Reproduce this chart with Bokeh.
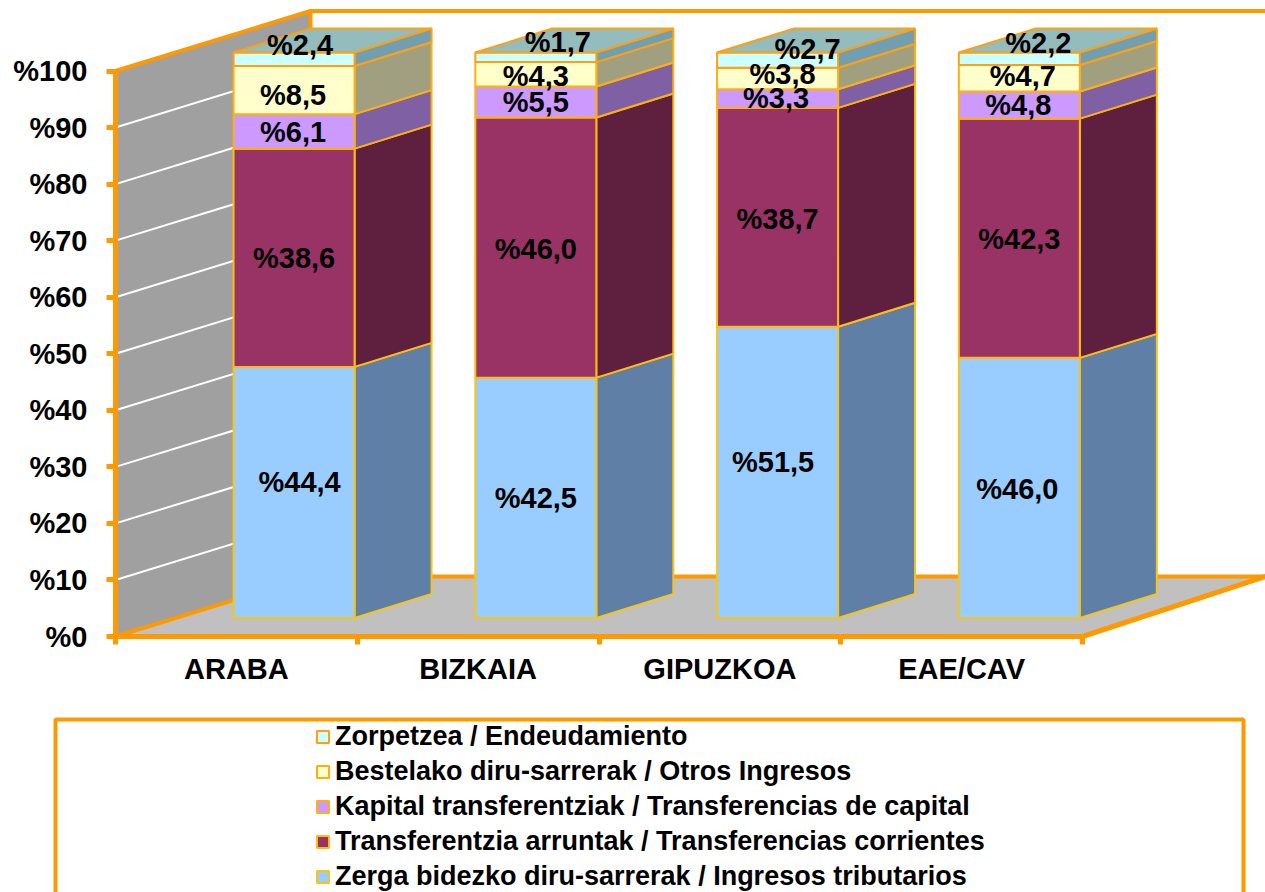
from bokeh.plotting import figure
from bokeh.models import ColumnDataSource, FixedTicker, Legend, LegendItem, BoxAnnotation
from bokeh.embed import file_html
from bokeh.resources import INLINE
from bokeh.core.properties import value

# ---- data ----
categories = ["ARABA", "BIZKAIA", "GIPUZKOA", "EAE/CAV"]
series_names = [
    "Zerga bidezko diru-sarrerak / Ingresos tributarios",
    "Transferentzia arruntak / Transferencias corrientes",
    "Kapital transferentziak / Transferencias de capital",
    "Bestelako diru-sarrerak / Otros Ingresos",
    "Zorpetzea / Endeudamiento",
]
zerga = [44.4, 42.5, 51.5, 46.0]
transf_arrunt = [38.6, 46.0, 38.7, 42.3]
kapital = [6.1, 5.5, 3.3, 4.8]
bestelako = [8.5, 4.3, 3.8, 4.7]
zorpetzea = [2.4, 1.7, 2.7, 2.2]
y_ticks = [0, 10, 20, 30, 40, 50, 60, 70, 80, 90, 100]

# ---- styles / layout ----
series = [zerga, transf_arrunt, kapital, bestelako, zorpetzea]
front = ["#99ccff", "#993366", "#cc99ff", "#ffffcc", "#ccffff"]
side = ["#5f7fa6", "#5f1f3f", "#8060a5", "#a0a080", "#6f9fb0"]
edge = ["#f5c518", "#ffbb10", "#ffb010", "#ffb010", "#ffa010"]
top_colour = "#95bcbc"
ORANGE = "#ff9900"
FONT = "Liberation Sans"

W, H = 1265, 892
X0, Y0 = 115, 636               # pixel position of the axes' origin
XS, YS = 241.75, 5.655          # pixels per data unit
XMAX, YMAX = (W - X0) / XS, Y0 / YS
WALL_DX, WALL_DY = 195 / XS, 60 / YS
BAR_OFF_X, BAR_OFF_Y = 57.7 / XS, 18.5 / YS   # shift of the bars' front faces
SIDE_DX, SIDE_DY = 77 / XS, 24 / YS
HALF = 60.5 / XS

# label shifts from the middle of each segment, in pixels (image down positive)
label_dx = [[5.5, 0, -4.5, -2], [0, 0, 0, 0], [-1, 0, -1.5, -1], [-1, 0, 5, 3.5], [6, 22, 30, 19]]
label_dy = [[-10.5, 0, -10.4, 1], [0.5, 1.4, 1.6, 0.7], [0.5, 0, -0.7, 0], [4.7, 1.7, -4.6, -2.3], [-14.4, -15, -11.2, -15.8]]

p = figure(width=W, height=H, output_backend="svg", toolbar_location=None,
           x_range=(-X0 / XS, XMAX), y_range=(-(H - Y0) / YS, YMAX),
           min_border_left=0, min_border_right=0, min_border_top=0, min_border_bottom=0,
           outline_line_color=None, background_fill_color="white")
p.grid.visible = False

# walls
p.patch([0, WALL_DX, WALL_DX, 0], [0, WALL_DY, 100 + WALL_DY, 100], fill_color="#a0a0a0", line_color=None)
p.patch([0, WALL_DX, XMAX, 4], [0, WALL_DY, WALL_DY, 0], fill_color="#c0c0c0", line_color=None)
grid_vals = [t for t in y_ticks if 0 < t < 100]
p.segment([0] * len(grid_vals), grid_vals, [WALL_DX] * len(grid_vals), [t + WALL_DY for t in grid_vals],
          line_color="white", line_width=2)
# orange frame of the walls
p.line([0, WALL_DX, XMAX], [100, 100 + WALL_DY, 100 + WALL_DY], line_color=ORANGE, line_width=4)
p.line([WALL_DX, WALL_DX], [WALL_DY, 100 + WALL_DY], line_color=ORANGE, line_width=4)
p.line([0, WALL_DX, XMAX], [0, WALL_DY, WALL_DY], line_color=ORANGE, line_width=4)
p.line([4, XMAX], [0, WALL_DY], line_color=ORANGE, line_width=5)

# stacked 3-D bars
legend_renderers = []
for s, vals in enumerate(series):
    l, r, b, t = [], [], [], []
    sx, sy = [], []
    for i, v in enumerate(vals):
        base = sum(series[k][i] for k in range(s))
        cx = i + 0.5 + BAR_OFF_X
        l.append(cx - HALF); r.append(cx + HALF)
        b.append(base + BAR_OFF_Y); t.append(base + v + BAR_OFF_Y)
        sx.append([cx + HALF, cx + HALF + SIDE_DX, cx + HALF + SIDE_DX, cx + HALF])
        sy.append([base + BAR_OFF_Y, base + BAR_OFF_Y + SIDE_DY, base + v + BAR_OFF_Y + SIDE_DY, base + v + BAR_OFF_Y])
    p.patches(sx, sy, fill_color=side[s], line_color=edge[s], line_width=2)
    legend_renderers.append(
        p.quad(left=l, right=r, bottom=b, top=t, fill_color=front[s], line_color=edge[s], line_width=2))

# top faces
tx, ty = [], []
for i in range(len(categories)):
    cx = i + 0.5 + BAR_OFF_X
    total = sum(series[k][i] for k in range(len(series))) + BAR_OFF_Y
    tx.append([cx - HALF, cx - HALF + SIDE_DX, cx + HALF + SIDE_DX, cx + HALF])
    ty.append([total, total + SIDE_DY, total + SIDE_DY, total])
p.patches(tx, ty, fill_color=top_colour, line_color="#ffa010", line_width=2)

# value labels
lx, ly, lt, ldx, ldy = [], [], [], [], []
for s, vals in enumerate(series):
    for i, v in enumerate(vals):
        base = sum(series[k][i] for k in range(s))
        lx.append(i + 0.5 + BAR_OFF_X)
        ly.append(base + v / 2 + BAR_OFF_Y)
        lt.append("%" + f"{v:.1f}".replace(".", ","))
        ldx.append(label_dx[s][i]); ldy.append(label_dy[s][i])
p.text(x="x", y="y", text="t", x_offset="dx", y_offset="dy",
       source=ColumnDataSource(dict(x=lx, y=ly, t=lt, dx=ldx, dy=ldy)),
       text_font=value(FONT), text_font_style="bold", text_font_size="29px",
       text_color="black", text_align="center", text_baseline="middle")

# axes
ya = p.yaxis[0]
ya.fixed_location = 0
ya.ticker = FixedTicker(ticks=y_ticks)
ya.major_label_overrides = {t: f"%{t}" for t in y_ticks}
ya.bounds = (0, 100)
ya.axis_line_color = ORANGE; ya.axis_line_width = 5
ya.major_tick_line_color = ORANGE; ya.major_tick_line_width = 5
ya.major_tick_in = 0; ya.major_tick_out = 9
ya.minor_tick_line_color = None
ya.major_label_text_font = FONT; ya.major_label_text_font_style = "bold"
ya.major_label_text_font_size = "29px"; ya.major_label_text_color = "black"
ya.major_label_standoff = 19

xa = p.xaxis[0]
xa.fixed_location = 0
centers = [i + 0.5 for i in range(len(categories))]
xa.ticker = FixedTicker(ticks=centers, minor_ticks=list(range(len(categories) + 1)))
xa.major_label_overrides = {c: n for c, n in zip(centers, categories)}
xa.bounds = (0, len(categories))
xa.axis_line_color = ORANGE; xa.axis_line_width = 5
xa.major_tick_line_color = None; xa.major_tick_in = 0; xa.major_tick_out = 0
xa.minor_tick_line_color = ORANGE; xa.minor_tick_line_width = 5
xa.minor_tick_in = 0; xa.minor_tick_out = 8
xa.major_label_text_font = FONT; xa.major_label_text_font_style = "bold"
xa.major_label_text_font_size = "29px"; xa.major_label_text_color = "black"
xa.major_label_standoff = 8

# legend box and legend
p.add_layout(BoxAnnotation(left=55, right=1243, top=719, bottom=894,
                           left_units="canvas", right_units="canvas", top_units="canvas", bottom_units="canvas",
                           fill_color=None, fill_alpha=0, line_color=ORANGE, line_width=4, line_alpha=1))
items = [LegendItem(label=value(series_names[s]), renderers=[legend_renderers[s]]) for s in reversed(range(len(series)))]
legend = Legend(items=items, location=(315, 0), orientation="vertical",
                background_fill_alpha=0, border_line_color=None, padding=0, margin=0,
                spacing=4, glyph_width=15, glyph_height=15, label_standoff=5,
                label_text_font=FONT, label_text_font_style="bold", label_text_font_size="27px",
                label_text_color="black", click_policy="none")
p.add_layout(legend)

open("out.html", "w").write(file_html(p, INLINE))
